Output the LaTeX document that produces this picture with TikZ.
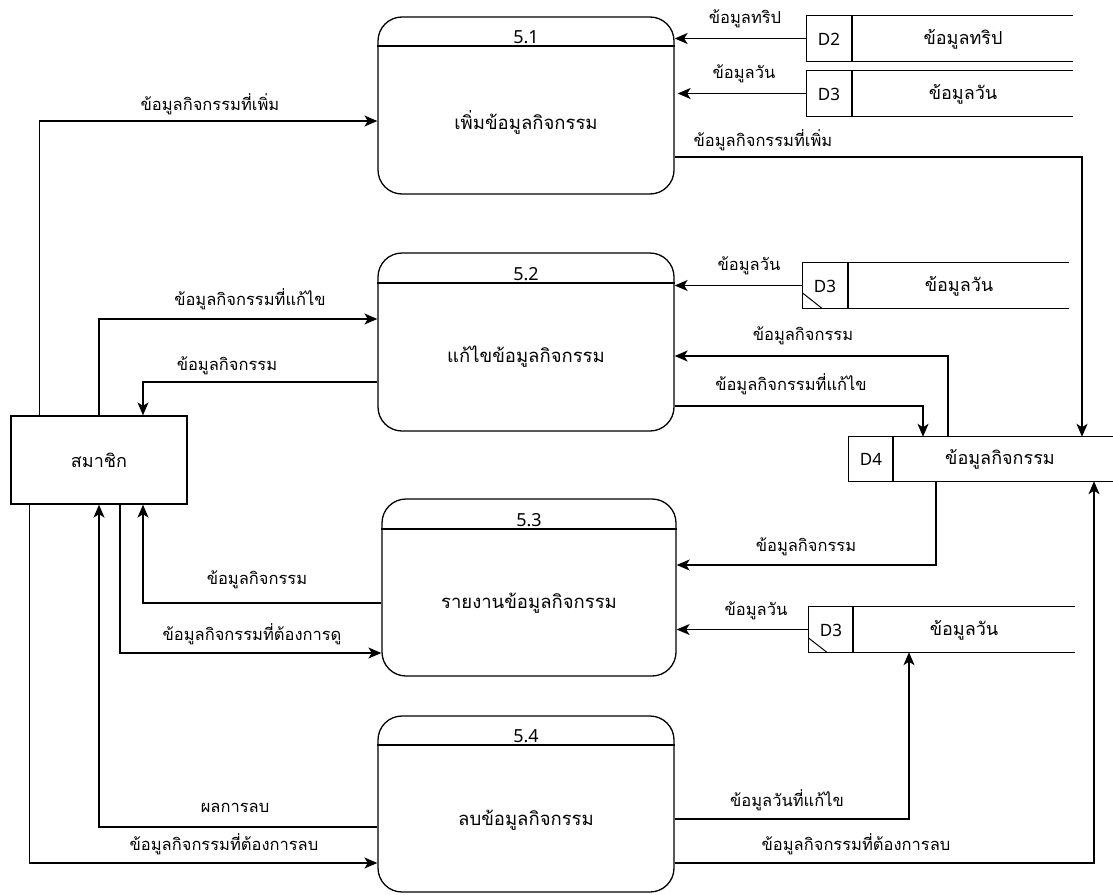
\documentclass[tikz,border=0pt]{standalone}
\usepackage{fontspec}
\setmainfont{Noto Sans}
\newfontfamily\thai[Script=Thai]{Loma}
\usetikzlibrary{arrows.meta,calc}
\tikzset{
  proc/.style={draw,line width=1.3pt,rounded corners=24pt,inner sep=0pt},
  ptext/.style={font=\thai\fontsize{18.5}{22}\selectfont,inner sep=0pt},
  ent/.style={draw,line width=1.3pt,inner sep=0pt,font=\thai\fontsize{18}{22}\selectfont},
  flow/.style={line width=1.3pt,-{Stealth[length=13pt,width=11pt,inset=3.5pt]}},
  lbl/.style={font=\thai\fontsize{16.5}{20}\selectfont,inner sep=0pt},
  num/.style={font=\fontsize{18}{20}\selectfont,inner sep=1pt,anchor=base},
  sid/.style={font=\fontsize{17}{20}\selectfont,inner sep=0pt},
  sname/.style={font=\thai\fontsize{18}{22}\selectfont,inner sep=0pt},
  storeline/.style={line width=1.3pt},
}
\begin{document}
\begin{tikzpicture}[x=1pt,y=-1pt]
\useasboundingbox (0,0) rectangle (1113,894);

% processes
\node[proc,minimum width=296pt,minimum height=177pt] (p1) at (526,105.5) {};
\node[proc,minimum width=296pt,minimum height=178pt] (p2) at (526,342) {};
\node[proc,minimum width=294pt,minimum height=177pt] (p3) at (529,587.5) {};
\node[proc,minimum width=296pt,minimum height=176pt] (p4) at (526,804) {};
\node[ptext] (t1) at (p1.center |- 0,122) {เพิ่มข้อมูลกิจกรรม};
\node[ptext] (t2) at (p2.center |- 0,357) {แก้ไขข้อมูลกิจกรรม};
\node[ptext] (t3) at (p3.center |- 0,603) {รายงานข้อมูลกิจกรรม};
\node[ptext] (t4) at (p4.center |- 0,820) {ลบข้อมูลกิจกรรม};
\draw[storeline] (p1.west |- 0,46) -- (p1.east |- 0,46);
\draw[storeline] (p2.west |- 0,283) -- (p2.east |- 0,283);
\draw[storeline] (p3.west |- 0,529) -- (p3.east |- 0,529);
\draw[storeline] (p4.west |- 0,745) -- (p4.east |- 0,745);
\node[num] (n1) at (p1.center |- 0,43) {5.1};
\node[num] (n2) at (p2.center |- 0,280) {5.2};
\node[num] (n3) at (p3.center |- 0,526) {5.3};
\node[num] (n4) at (p4.center |- 0,742) {5.4};

% external entity
\node[ent,minimum width=176pt,minimum height=88pt] (m) at (99,460) {สมาชิก};

% data stores
\node[minimum width=266pt,minimum height=45pt,inner sep=0pt] (d2) at (940,38.5) {};
\node[minimum width=266pt,minimum height=45pt,inner sep=0pt] (d3a) at (940,93.5) {};
\node[minimum width=266pt,minimum height=45pt,inner sep=0pt] (d3b) at (936,285.5) {};
\node[minimum width=264pt,minimum height=44pt,inner sep=0pt] (d4) at (981,459) {};
\node[minimum width=266pt,minimum height=45pt,inner sep=0pt] (d3c) at (942,629.5) {};
\foreach \s/\sep in {d2/852,d3a/852,d3b/848,d4/893,d3c/853}{
  \draw[storeline] (\s.north east) -- (\s.north west) -- (\s.south west) -- (\s.south east);
  \draw[storeline] (\s.north west -| \sep,0) -- (\s.south west -| \sep,0);
}
\draw[line width=1pt] ($(d3b.south west)+(0,-15)$) -- ($(d3b.south west)+(19,0)$);
\draw[line width=1pt] ($(d3c.south west)+(0,-14)$) -- ($(d3c.south west)+(18,0)$);
\node[sid] (d2i) at (829,39) {D2};
\node[sname] (d2n) at (963,39) {ข้อมูลทริป};
\node[sid] (d3ai) at (829,94) {D3};
\node[sname] (d3an) at (963,94) {ข้อมูลวัน};
\node[sid] (d3bi) at (825,286) {D3};
\node[sname] (d3bn) at (959,286) {ข้อมูลวัน};
\node[sid] (d4i) at (871,459) {D4};
\node[sname] (d4n) at (1000,459) {ข้อมูลกิจกรรม};
\node[sid] (d3ci) at (831,630) {D3};
\node[sname] (d3cn) at (964,630) {ข้อมูลวัน};

% flows: member side
\draw[flow] ([xshift=29pt]m.north west) |- (p1.west |- 0,121);
\node[lbl] at (210,104) {ข้อมูลกิจกรรมที่เพิ่ม};
\draw[flow] (m.north) |- (p2.west |- 0,319);
\node[lbl] at (250,299) {ข้อมูลกิจกรรมที่แก้ไข};
\draw[flow] (p2.west |- 0,382) -| ([xshift=44pt]m.north);
\node[lbl] at (227,366) {ข้อมูลกิจกรรม};
\draw[flow] (p3.west |- 0,603) -| ([xshift=44pt]m.south);
\node[lbl] at (257,580) {ข้อมูลกิจกรรม};
\draw[flow] ([xshift=21pt]m.south) |- (p3.west |- 0,653);
\node[lbl] at (252,634) {ข้อมูลกิจกรรมที่ต้องการดู};
\draw[flow] (p4.west |- 0,827) -| (m.south);
\node[lbl] at (235,808) {ผลการลบ};
\draw[flow] ([xshift=19pt]m.south west) |- (p4.west |- 0,863);
\node[lbl] at (224,844) {ข้อมูลกิจกรรมที่ต้องการลบ};

% flows: store side
\draw[flow] (d2.west) -- (p1.east |- d2.west);
\node[lbl] at (745,19) {ข้อมูลทริป};
\draw[flow,shorten >=3pt] (d3a.west) -- (p1.east |- d3a.west);
\node[lbl] at (744,74) {ข้อมูลวัน};
\draw[flow] (p1.east |- 0,157) -| (d4.north -| 1082,0);
\node[lbl] at (763,140) {ข้อมูลกิจกรรมที่เพิ่ม};
\draw[flow] (d3b.west) -- (p2.east |- d3b.west);
\node[lbl] at (749,266) {ข้อมูลวัน};
\draw[flow] (d4.north -| 948,0) |- (p2.east |- 0,356);
\node[lbl] at (803,336) {ข้อมูลกิจกรรม};
\draw[flow] (p2.east |- 0,406) -| (d4.north -| 923,0);
\node[lbl] at (791,384) {ข้อมูลกิจกรรมที่แก้ไข};
\draw[flow] (d4.south -| 936,0) |- (p3.east |- 0,565);
\node[lbl] at (806,547) {ข้อมูลกิจกรรม};
\draw[flow] (d3c.west) -- (p3.east |- d3c.west);
\node[lbl] at (756,611) {ข้อมูลวัน};
\draw[flow] (p4.east |- 0,819) -| (d3c.south -| 909,0);
\node[lbl] at (787,800) {ข้อมูลวันที่แก้ไข};
\draw[flow] (p4.east |- 0,863) -| (d4.south -| 1094,0);
\node[lbl] at (856,844) {ข้อมูลกิจกรรมที่ต้องการลบ};
\end{tikzpicture}
\end{document}
